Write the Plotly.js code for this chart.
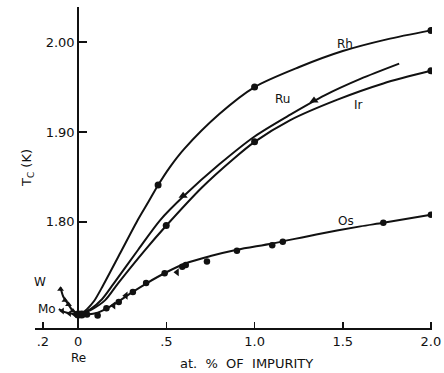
<!DOCTYPE html>
<html>
<head>
<meta charset="utf-8">
<script src="https://cdn.plot.ly/plotly-3.0.1.min.js"></script>
<style>html,body{margin:0;padding:0;background:#fff;}#chart{width:444px;height:373px;}</style>
</head>
<body>
<div id="chart"></div>
<script>
// Tick labels
const xTickVals = [-0.2, 0, 0.5, 1.0, 1.5, 2.0];
const xTickText = ['.2', '0', '.5', '1.0', '1.5', '2.0'];
const yTickVals = [1.80, 1.90, 2.00];
const yTickText = ['1.80', '1.90', '2.00'];

// Rh: curve and measured points
const rhCurveX = [0.02, 0.05, 0.09, 0.14, 0.24, 0.34, 0.40, 0.45, 0.52, 0.60, 0.80, 1.0, 1.25, 1.50, 1.75, 2.0];
const rhCurveY = [1.698, 1.703, 1.712, 1.729, 1.766, 1.803, 1.823, 1.840, 1.861, 1.881, 1.920, 1.950, 1.972, 1.990, 2.003, 2.013];
const rhPtX = [0.453, 1.0, 2.0];
const rhPtY = [1.841, 1.950, 2.013];

// Ru: curve and measured points (triangles)
const ruCurveX = [0.02, 0.07, 0.135, 0.20, 0.34, 0.465, 0.60, 0.80, 1.0, 1.20, 1.40, 1.60, 1.82];
const ruCurveY = [1.698, 1.703, 1.714, 1.731, 1.769, 1.802, 1.829, 1.864, 1.895, 1.919, 1.941, 1.959, 1.976];
const ruPtX = [0.595, 1.337];
const ruPtY = [1.829, 1.935];

// Ir: curve and measured points
const irCurveX = [0.02, 0.08, 0.153, 0.227, 0.38, 0.50, 0.70, 0.88, 1.0, 1.20, 1.47, 1.73, 2.0];
const irCurveY = [1.698, 1.703, 1.713, 1.732, 1.769, 1.796, 1.838, 1.870, 1.889, 1.913, 1.936, 1.954, 1.968];
const irPtX = [0.499, 1.0, 2.0];
const irPtY = [1.796, 1.889, 1.968];

// Os: curve and measured points
const osCurveX = [0.0, 0.05, 0.11, 0.20, 0.30, 0.39, 0.50, 0.61, 0.75, 0.90, 1.10, 1.35, 1.60, 1.73, 2.0];
const osCurveY = [1.697, 1.697, 1.699, 1.708, 1.721, 1.732, 1.744, 1.754, 1.762, 1.769, 1.776, 1.786, 1.795, 1.799, 1.808];
const osPtX = [0.05, 0.11, 0.16, 0.23, 0.31, 0.385, 0.49, 0.59, 0.61, 0.73, 0.90, 1.10, 1.16, 1.73, 2.0];
const osPtY = [1.697, 1.696, 1.704, 1.711, 1.722, 1.732, 1.743, 1.750, 1.752, 1.756, 1.768, 1.774, 1.778, 1.799, 1.808];
const osTriX = [0.20, 0.27, 0.56];
const osTriY = [1.707, 1.718, 1.744];

// W and Mo (plotted to the left of Re)
const wCurveX = [0.0, -0.03, -0.055, -0.085, -0.10];
const wCurveY = [1.698, 1.701, 1.708, 1.717, 1.727];
const wPtX = [-0.03, -0.055, -0.075, -0.10];
const wPtY = [1.701, 1.708, 1.713, 1.725];
const moCurveX = [0.0, -0.04, -0.08, -0.11];
const moCurveY = [1.697, 1.698, 1.700, 1.703];
const moPtX = [-0.02, -0.05, -0.09];
const moPtY = [1.697, 1.698, 1.701];
const rePtX = [0.0, 0.02];
const rePtY = [1.697, 1.697];

// Labels
const labelText = ['Rh', 'Ru', 'Ir', 'Os', 'W', 'Mo'];
const labelX = [1.51, 1.16, 1.59, 1.52, -0.215, -0.175];
const labelY = [1.998, 1.937, 1.930, 1.801, 1.733, 1.703];

const xRange = [-0.245, 2.006];
const yRange = [1.682, 2.039];
const FONT = 'DejaVu Sans, Arial, sans-serif';
const INK = '#111';

function curve(x, y) {
  return {x: x, y: y, mode: 'lines', type: 'scatter', line: {color: INK, width: 2, shape: 'spline', smoothing: 0.8}, hoverinfo: 'skip', showlegend: false};
}
function pts(x, y, sym, size) {
  return {x: x, y: y, mode: 'markers', type: 'scatter', marker: {color: INK, size: size || 7, symbol: sym || 'circle'}, showlegend: false};
}

const data = [
  curve(rhCurveX, rhCurveY), pts(rhPtX, rhPtY),
  curve(ruCurveX, ruCurveY), pts(ruPtX, ruPtY, 'triangle-up', 8),
  curve(irCurveX, irCurveY), pts(irPtX, irPtY),
  curve(osCurveX, osCurveY), pts(osPtX, osPtY, 'circle', 6.5), pts(osTriX, osTriY, 'triangle-left', 7),
  curve(wCurveX, wCurveY), pts(wPtX, wPtY, 'triangle-up', 6),
  curve(moCurveX, moCurveY), pts(moPtX, moPtY, 'triangle-left', 6),
  pts(rePtX, rePtY, 'circle', 8)
];

const annotations = labelText.map((t, i) => ({
  text: t, x: labelX[i], y: labelY[i], xref: 'x', yref: 'y', showarrow: false,
  font: {family: FONT, size: 12, color: INK}
}));
annotations.push({text: 'Re', x: 0, y: -0.093, xref: 'x', yref: 'paper', showarrow: false, yanchor: 'middle', font: {family: FONT, size: 12, color: INK}});
annotations.push({text: 'at.  %  OF  IMPURITY', x: 0.952, y: -0.11, xref: 'x', yref: 'paper', showarrow: false, yanchor: 'middle', font: {family: FONT, size: 13, color: INK}});

const layout = {
  width: 444, height: 373,
  margin: {l: 35, r: 12, t: 7, b: 45},
  paper_bgcolor: '#fff', plot_bgcolor: '#fff',
  showlegend: false,
  font: {family: FONT, size: 12, color: INK},
  xaxis: {
    range: xRange, showgrid: false, zeroline: false,
    showline: true, linecolor: INK, linewidth: 2,
    ticks: 'inside', ticklen: 6, tickwidth: 1.5, tickcolor: INK,
    tickvals: xTickVals, ticktext: xTickText,
    tickfont: {family: FONT, size: 13, color: INK}
  },
  yaxis: {
    range: yRange, showgrid: false, zeroline: false,
    anchor: 'free', position: (0 - xRange[0]) / (xRange[1] - xRange[0]),
    showline: true, linecolor: INK, linewidth: 2,
    ticks: 'inside', ticklen: 8, tickwidth: 1.5, tickcolor: INK,
    tickvals: yTickVals, ticktext: yTickText,
    tickfont: {family: FONT, size: 13, color: INK},
    title: {text: 'T<sub>C</sub> (K)', font: {family: FONT, size: 13, color: INK}, standoff: 10}
  },
  annotations: annotations
};

Plotly.newPlot('chart', data, layout, {staticPlot: true, displayModeBar: false});
</script>
</body>
</html>
